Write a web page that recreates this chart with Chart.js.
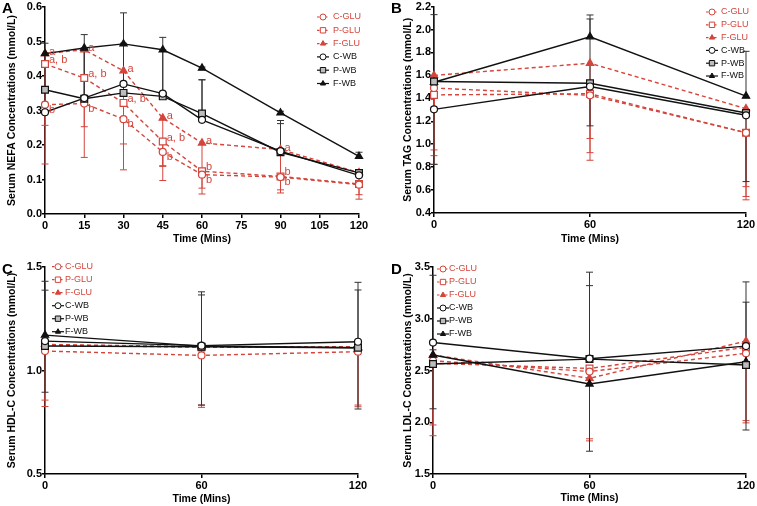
<!DOCTYPE html>
<html>
<head>
<meta charset="utf-8">
<script src="https://cdn.jsdelivr.net/npm/chart.js@4.4.1/dist/chart.umd.min.js"></script>
<style>
body{margin:0;background:#fff;width:757px;height:506px;position:relative;overflow:hidden}
.box{position:absolute}
</style>
</head>
<body>
<div class="box" style="left:0;top:0;width:378px;height:250px"><canvas id="chartA"></canvas></div>
<div class="box" style="left:378px;top:0;width:379px;height:250px"><canvas id="chartB"></canvas></div>
<div class="box" style="left:0;top:250px;width:378px;height:256px"><canvas id="chartC"></canvas></div>
<div class="box" style="left:378px;top:250px;width:379px;height:256px"><canvas id="chartD"></canvas></div>
<script>

// series order: C-GLU, P-GLU, F-GLU, C-WB, P-WB, F-WB
let seriesNames=["C-GLU","P-GLU","F-GLU","C-WB","P-WB","F-WB"]

let nefaTimes=[0,15,30,45,60,90,120]
let otherTimes=[0,60,120]

let nefaXTicks=[0,15,30,45,60,75,90,105,120]
let otherXTicks=[0,60,120]

let nefaYTicks=[0,0.1,0.2,0.3,0.4,0.5,0.6]
let tagYTicks=[0.4,0.6,0.8,1.0,1.2,1.4,1.6,1.8,2.0,2.2]
let hdlYTicks=[0.5,1.0,1.5]
let ldlYTicks=[1.5,2.0,2.5,3.0,3.5]

// A: NEFA
let nefaMeans=[
[0.317,0.320,0.275,0.180,0.114,0.107,0.085],
[0.435,0.394,0.322,0.210,0.124,0.109,0.087],
[0.465,0.476,0.415,0.278,0.206,0.187,0.120],
[0.295,0.336,0.377,0.349,0.273,0.182,0.112],
[0.360,0.334,0.351,0.341,0.291,0.179,0.119],
[0.465,0.481,0.493,0.476,0.423,0.293,0.167]
]
// signed error bars: negative drawn downward, positive upward
let nefaErrs=[
[-0.172,-0.156,-0.147,-0.083,-0.056,-0.046,-0.042],
[-0.178,-0.141,-0.119,-0.072,-0.049,-0.039,-0.031],
[-0.165,-0.14,-0.085,-0.138,-0.085,-0.077,-0.03],
[0.06,0.145,0.118,0.127,0.116,0.08,0.008],
[0.10,0.14,0.025,0.13,0.098,0.092,0.006],
[0.03,0.039,0.09,0.036,0.003,0.005,0.012]
]
let nefaLetters=[
["b","b","b","b","b","b",""],
["a, b","a, b","a, b","a, b","b","b",""],
["a","a","a","a","a","a",""],
[],[],[]
]

// B: TAG
let tagMeans=[
[1.49,1.426,1.10],
[1.43,1.44,1.10],
[1.60,1.706,1.31],
[1.304,1.503,1.252],
[1.547,1.532,1.272],
[1.54,1.937,1.42]
]
let tagErrs=[
[-0.54,-0.50,-0.585],
[-0.53,-0.58,-0.556],
[-0.775,-0.656,-0.68],
[-0.48,-0.343,-0.578],
[0.05,0.56,0.02],
[0.59,0.19,0.39]
]

// C: HDL-C
let hdlMeans=[
[1.094,1.073,1.091],
[1.123,1.112,1.115],
[1.126,1.115,1.112],
[1.142,1.120,1.139],
[1.118,1.115,1.110],
[1.171,1.118,1.110]
]
let hdlErrs=[
[-0.237,-0.24,-0.258],
[-0.297,-0.29,-0.29],
[-0.02,-0.02,-0.02],
[0.246,0.26,0.287],
[-0.223,-0.282,-0.296],
[0.26,0.247,0.279]
]

// D: LDL-C
let ldlMeans=[
[2.594,2.49,2.666],
[2.57,2.52,2.724],
[2.65,2.425,2.784],
[2.77,2.614,2.736],
[2.563,2.61,2.553],
[2.65,2.37,2.585]
]
let ldlErrs=[
[-0.62,-0.65,-0.65],
[-0.70,-0.70,-0.73],
[-0.05,-0.05,-0.05],
[0.65,0.836,0.62],
[-0.433,0.71,-0.628],
[0.05,-0.65,0.575]
]


let RED="#d4453c"
let BLACK="#111111"
let FONT="'Liberation Sans', Arial, sans-serif"

let pointStyles=["circle","rect","triangle","circle","rect","triangle"]
let pointRadii=[3.5,4.8,4.2,3.5,4.8,4.2]
let pointFills=["#ffffff","#ffffff",RED,"#ffffff","#bdbdbd",BLACK]
let letterShift=[5,-4,-2]


let errorBars={
id:"errorBars",
beforeDatasetsDraw(chart){
let ctx=chart.ctx
let ys=chart.scales.y
chart.data.datasets.forEach((ds,k)=>{
let meta=chart.getDatasetMeta(k)
ctx.save()
ctx.strokeStyle=ds.errColor
ctx.lineWidth=1
meta.data.forEach((pt,i)=>{
let e=ds.errs[i]
if(!e)return
let yEnd=ys.getPixelForValue(ds.data[i].y+e)
ctx.beginPath()
ctx.moveTo(pt.x,pt.y)
ctx.lineTo(pt.x,yEnd)
ctx.moveTo(pt.x-3.5,yEnd)
ctx.lineTo(pt.x+3.5,yEnd)
ctx.stroke()
})
ctx.restore()
})
}
}

let sigLetters={
id:"sigLetters",
afterDatasetsDraw(chart){
let ctx=chart.ctx
chart.data.datasets.forEach((ds,k)=>{
if(!ds.letters||!ds.letters.length)return
let meta=chart.getDatasetMeta(k)
ctx.save()
ctx.fillStyle=RED
ctx.font="11px "+FONT
ctx.textBaseline="middle"
meta.data.forEach((pt,i)=>{
let t=ds.letters[i]
if(t)ctx.fillText(t,pt.x+4,pt.y+letterShift[k])
})
ctx.restore()
})
}
}

let sketchLegend={
id:"sketchLegend",
afterDraw(chart,args,opts){
let ctx=chart.ctx
chart.data.datasets.forEach((ds,i)=>{
let y=opts.y+i*opts.step
ctx.save()
ctx.strokeStyle=ds.borderColor
ctx.lineWidth=1.2
ctx.setLineDash(ds.borderDash.length?[2.5,1.5]:[])
ctx.beginPath()
ctx.moveTo(opts.x-6,y)
ctx.lineTo(opts.x+6,y)
ctx.stroke()
ctx.setLineDash([])
ctx.fillStyle=ds.pointBackgroundColor
ctx.strokeStyle=ds.pointBorderColor
ctx.lineWidth=1
Chart.helpers.drawPoint(ctx,{pointStyle:ds.pointStyle,radius:ds.pointStyle=="rect"?3.8:3,rotation:0,borderWidth:1},opts.x,y)
ctx.fillStyle=ds.borderColor
ctx.font="9px "+FONT
ctx.textBaseline="middle"
ctx.fillText(ds.label,opts.x+opts.gap,y)
ctx.restore()
})
}
}

let panelTag={
id:"panelTag",
afterDraw(chart,args,opts){
let ctx=chart.ctx
ctx.save()
ctx.fillStyle="#000"
ctx.font="bold 15px "+FONT
ctx.textBaseline="top"
ctx.fillText(opts.text,opts.x,opts.y)
ctx.restore()
}
}


function buildDatasets(times,means,errs,letters){

return seriesNames.map((name,k)=>{
let glu=k<3
return{
label:name,
data:times.map((t,i)=>({x:t,y:means[k][i]})),
errs:errs[k],
letters:letters?letters[k]:null,
errColor:glu?RED:"#333333",
borderColor:glu?RED:BLACK,
backgroundColor:glu?RED:BLACK,
pointBackgroundColor:pointFills[k],
pointBorderColor:glu?RED:BLACK,
pointStyle:pointStyles[k],
pointRadius:pointRadii[k],
pointBorderWidth:1.2,
borderWidth:1.4,
borderDash:glu?[4,3]:[],
order:glu?1:0,
clip:false,
tension:0
}
})

}


function makeChart(id,p){

return new Chart(
document.getElementById(id),
{
type:"line",
data:{datasets:buildDatasets(p.times,p.means,p.errs,p.letters)},
options:{
responsive:true,
maintainAspectRatio:false,
animation:false,
events:[],
layout:{autoPadding:false,padding:p.pad},
plugins:{
legend:{display:false},
tooltip:{enabled:false},
sketchLegend:p.legend,
panelTag:p.tag
},
scales:{
x:{
type:"linear",
min:0,
max:120,
afterBuildTicks:a=>{a.ticks=p.xTicks.map(v=>({value:v}))},
afterFit:s=>{s.height=p.xh},
ticks:{color:"#000",font:{family:FONT,size:11,weight:"bold"},padding:1,maxRotation:0,autoSkip:false},
grid:{drawOnChartArea:false,tickLength:4,color:"#000",lineWidth:1.5},
border:{color:"#000",width:1.5},
title:{display:true,text:"Time (Mins)",color:"#000",font:{family:FONT,size:10.5,weight:"bold"},padding:{top:0,bottom:p.xtp}}
},
y:{
type:"linear",
min:p.yTicks[0],
max:p.yTicks[p.yTicks.length-1],
afterBuildTicks:a=>{a.ticks=p.yTicks.map(v=>({value:v}))},
afterFit:s=>{s.width=p.yw},
ticks:{color:"#000",font:{family:FONT,size:11,weight:"bold"},padding:0,callback:v=>Number(v).toFixed(1)},
grid:{drawOnChartArea:false,tickLength:3,color:"#000",lineWidth:1.5},
border:{color:"#000",width:1.5},
title:{display:true,text:p.yTitle,color:"#000",font:{family:FONT,size:10.5,weight:"bold"},padding:{top:p.ytp,bottom:0}}
}
}
},
plugins:[errorBars,sigLetters,sketchLegend,panelTag]
})

}


makeChart("chartA",{
times:nefaTimes,means:nefaMeans,errs:nefaErrs,letters:nefaLetters,
xTicks:nefaXTicks,yTicks:nefaYTicks,
yTitle:"Serum NEFA Concentrations (mmol/L)",
pad:{left:0,right:19,top:7,bottom:0},yw:45,xh:36,ytp:6,xtp:5,
legend:{x:323,y:17,step:13.3,gap:10},
tag:{text:"A",x:2,y:1}
})

makeChart("chartB",{
times:otherTimes,means:tagMeans,errs:tagErrs,
xTicks:otherXTicks,yTicks:tagYTicks,
yTitle:"Serum TAG Concentrations (mmol/L)",
pad:{left:0,right:11,top:6,bottom:0},yw:56,xh:37,ytp:24,xtp:5,
legend:{x:334,y:12,step:12.8,gap:9},
tag:{text:"B",x:13,y:1}
})

makeChart("chartC",{
times:otherTimes,means:hdlMeans,errs:hdlErrs,
xTicks:otherXTicks,yTicks:hdlYTicks,
yTitle:"Serum HDL-C Concentrations (mmol/L)",
pad:{left:0,right:20,top:17,bottom:0},yw:45,xh:32,ytp:6,xtp:1,
legend:{x:58,y:16.7,step:13,gap:7},
tag:{text:"C",x:2,y:12}
})

makeChart("chartD",{
times:otherTimes,means:ldlMeans,errs:ldlErrs,
xTicks:otherXTicks,yTicks:ldlYTicks,
yTitle:"Serum LDL-C Concentrations (mmol/L)",
pad:{left:0,right:11,top:17,bottom:0},yw:55,xh:32,ytp:24,xtp:2,
legend:{x:65,y:19,step:13,gap:6},
tag:{text:"D",x:13,y:12}
})

</script>
</body>
</html>
